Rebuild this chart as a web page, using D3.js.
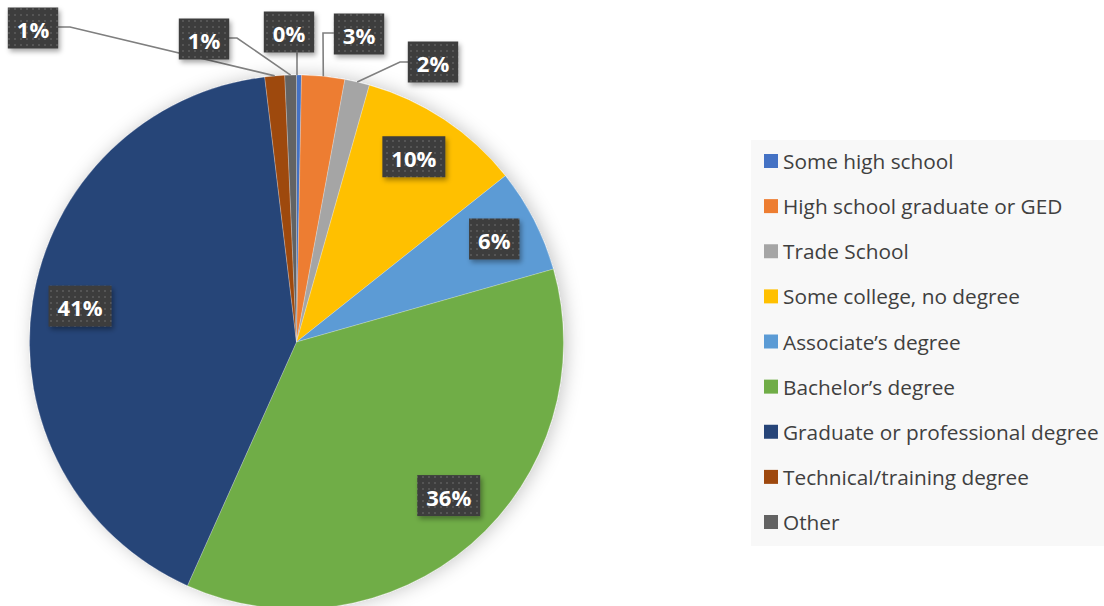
<!DOCTYPE html>
<html><head><meta charset="utf-8">
<script src="https://cdn.jsdelivr.net/npm/d3@7"></script>
<style>
html,body{margin:0;padding:0;background:#fff;}
svg{display:block;}
</style></head>
<body>
<svg id="chart" width="1104" height="606"></svg>
<script>
const categories = ["Some high school","High school graduate or GED","Trade School","Some college, no degree","Associate\u2019s degree","Bachelor\u2019s degree","Graduate or professional degree","Technical/training degree","Other"];
const values = [0.3, 2.6, 1.5, 9.9, 6.3, 36.1, 41.4, 1.2, 0.7];
const labels = ["0%","3%","2%","10%","6%","36%","41%","1%","1%"];
const colors = ["#4472C4","#ED7D31","#A5A5A5","#FFC000","#5B9BD5","#70AD47","#264478","#9E480E","#636363"];

// layout for outer (leader-line) labels: box centre and elbow point
const outerLayout = {
  0: {cx: 289, cy: 32, elbow: null, side: "bottom"},
  1: {cx: 359, cy: 34, elbow: [323, 33], side: "left"},
  2: {cx: 433, cy: 62, elbow: [400, 62], side: "left"},
  7: {cx: 33, cy: 28, elbow: [70, 27], side: "right"},
  8: {cx: 204, cy: 39, elbow: [237, 38], side: "right"}
};
const innerNudge = {3:[-4,-3], 4:[3,-3], 5:[9,-12], 6:[0,-3]};

const svg = d3.select("#chart");
const defs = svg.append("defs");
const pat = defs.append("pattern").attr("id","dots").attr("patternUnits","userSpaceOnUse")
  .attr("width",6).attr("height",6);
pat.append("rect").attr("width",6).attr("height",6).attr("fill","#3c3c3c");
pat.append("rect").attr("x",2).attr("y",2).attr("width",2).attr("height",2).attr("fill","#555555");
const f1 = defs.append("filter").attr("id","pieShadow").attr("x","-20%").attr("y","-20%").attr("width","140%").attr("height","140%");
f1.append("feDropShadow").attr("dx",3).attr("dy",0).attr("stdDeviation",9).attr("flood-color","#000").attr("flood-opacity",0.22);
const f2 = defs.append("filter").attr("id","boxShadow").attr("x","-30%").attr("y","-30%").attr("width","160%").attr("height","160%");
f2.append("feDropShadow").attr("dx",2).attr("dy",3).attr("stdDeviation",2.5).attr("flood-color","#000").attr("flood-opacity",0.35);

const cx = 296.5, cy = 342, R = 267;
const pie = d3.pie().sort(null).value(d => d)(values);
const arc = d3.arc().innerRadius(0).outerRadius(R);
const edge = d3.arc().innerRadius(R).outerRadius(R);
const inner = d3.arc().innerRadius(R*0.82).outerRadius(R*0.82);

const g = svg.append("g").attr("transform",`translate(${cx},${cy})`);
g.append("g").attr("filter","url(#pieShadow)")
  .selectAll("path").data(pie).join("path")
  .attr("d", arc).attr("fill",(d,i)=>colors[i])
  .attr("stroke","#ffffff").attr("stroke-width",0.4).attr("stroke-opacity",0.6);

// leader lines
const lines = svg.append("g");
const labelG = svg.append("g");
function drawBox(x, y, text){
  const t = labelG.append("text").attr("x",x).attr("y",y+1).attr("text-anchor","middle")
    .attr("dominant-baseline","central").attr("font-family","'Open Sans', Lato, sans-serif")
    .attr("font-weight",700).attr("font-size",22).attr("fill","#ffffff").text(text);
  const w = t.node().getComputedTextLength() + 18, h = 41;
  labelG.insert("rect","text").attr("x",x-w/2).attr("y",y-h/2).attr("width",w).attr("height",h)
    .attr("fill","url(#dots)").attr("filter","url(#boxShadow)");
  return {w,h};
}
pie.forEach((d,i)=>{
  if (outerLayout[i]) {
    const L = outerLayout[i];
    const [ex, ey] = edge.centroid(d);
    const ax = cx + ex, ay = cy + ey;
    const dims = {w: labels[i].length===3?63:48, h:41};
    let start;
    if (L.side === "bottom") start = [L.cx + 8, L.cy + dims.h/2];
    else if (L.side === "left") start = [L.cx - dims.w/2, L.elbow[1]];
    else start = [L.cx + dims.w/2, L.elbow[1]];
    const pts = [start];
    if (L.elbow) pts.push(L.elbow);
    pts.push(L.side==="bottom" ? [start[0], ay] : [ax, ay]);
    lines.append("path").attr("d", d3.line()(pts)).attr("fill","none")
      .attr("stroke","#7f7f7f").attr("stroke-width",1.6);
    drawBox(L.cx, L.cy, labels[i]);
  } else {
    const [x, y] = inner.centroid(d);
    const n = innerNudge[i] || [0,0];
    drawBox(cx + x + n[0], cy + y + n[1], labels[i]);
  }
});

// legend
const legend = svg.append("g");
legend.append("rect").attr("x",751).attr("y",140).attr("width",360).attr("height",406).attr("fill","#f8f8f8");
const ly = d3.scalePoint().domain(categories).range([161, 522]);
categories.forEach((c,i)=>{
  legend.append("rect").attr("x",764).attr("y",ly(c)-7).attr("width",14).attr("height",14).attr("fill",colors[i]);
  legend.append("text").attr("x",783).attr("y",ly(c)).attr("dominant-baseline","central")
    .attr("font-family","'Open Sans', Lato, sans-serif").attr("font-size",20.8).attr("fill","#404040").text(c);
});
</script>
</body></html>
